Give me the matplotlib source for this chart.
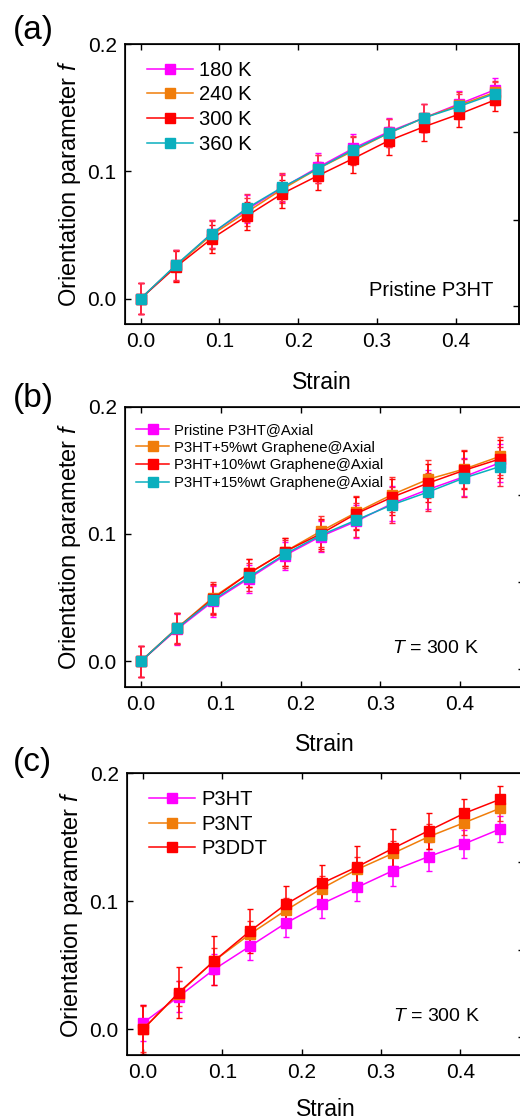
#Orientation parameter vs strain, three stacked panels
import numpy as np
import matplotlib
matplotlib.use('Agg')
import matplotlib.pyplot as plt

plt.rcParams['font.family'] = ['Liberation Sans', 'DejaVu Sans']
plt.rcParams['mathtext.fontset'] = 'custom'
plt.rcParams['mathtext.it'] = 'Liberation Sans:italic'
plt.rcParams['mathtext.rm'] = 'Liberation Sans'

#Strain values (same for all panels)
strain = [0.0, 0.045, 0.09, 0.135, 0.18, 0.225, 0.27, 0.315, 0.36, 0.405, 0.45]

#Panel (a): temperatures
labels_a = ['180 K', '240 K', '300 K', '360 K']
f_180 = [0.0, 0.026, 0.051, 0.070, 0.087, 0.103, 0.118, 0.131, 0.142, 0.153, 0.164]
f_240 = [0.0, 0.026, 0.050, 0.068, 0.086, 0.102, 0.116, 0.130, 0.142, 0.152, 0.162]
f_300 = [0.0, 0.025, 0.047, 0.065, 0.0825, 0.0965, 0.110, 0.124, 0.135, 0.145, 0.156]
f_360 = [0.0, 0.0265, 0.051, 0.071, 0.0875, 0.102, 0.117, 0.130, 0.142, 0.151, 0.161]
err_a = [0.012, 0.012, 0.011, 0.011, 0.011, 0.011, 0.011, 0.011, 0.011, 0.010, 0.009]

#Panel (b): graphene content
labels_b = ['Pristine P3HT@Axial', 'P3HT+5%wt Graphene@Axial',
            'P3HT+10%wt Graphene@Axial', 'P3HT+15%wt Graphene@Axial']
f_pristine = [0.0, 0.025, 0.047, 0.065, 0.083, 0.098, 0.110, 0.124, 0.135, 0.145, 0.156]
f_5wt = [0.0, 0.026, 0.050, 0.069, 0.086, 0.102, 0.117, 0.131, 0.143, 0.151, 0.161]
f_10wt = [0.0, 0.0258, 0.049, 0.069, 0.086, 0.100, 0.116, 0.129, 0.140, 0.150, 0.159]
f_15wt = [0.0, 0.0258, 0.048, 0.066, 0.084, 0.099, 0.111, 0.123, 0.133, 0.144, 0.153]
err_b = [0.012, 0.012, 0.012, 0.011, 0.011, 0.012, 0.013, 0.014, 0.015, 0.015, 0.015]

#Panel (c): side chains
labels_c = ['P3HT', 'P3NT', 'P3DDT']
f_p3ht = [0.005, 0.0255, 0.047, 0.065, 0.083, 0.098, 0.111, 0.124, 0.135, 0.145, 0.1565]
f_p3nt = [0.0, 0.028, 0.0536, 0.0745, 0.093, 0.110, 0.125, 0.1375, 0.1505, 0.1615, 0.1727]
f_p3ddt = [0.0, 0.0286, 0.0536, 0.0768, 0.0977, 0.114, 0.127, 0.1414, 0.1552, 0.1688, 0.1797]
err_p3ht = [0.014, 0.012, 0.012, 0.011, 0.011, 0.011, 0.011, 0.012, 0.011, 0.011, 0.010]
err_p3nt = [0.018, 0.010, 0.010, 0.010, 0.010, 0.010, 0.010, 0.010, 0.010, 0.010, 0.010]
err_p3ddt = [0.019, 0.020, 0.019, 0.017, 0.014, 0.014, 0.016, 0.015, 0.014, 0.011, 0.010]

#Ticks on the right spine of every panel
right_ticks = [-0.006, 0.062, 0.131]

magenta = '#FF00FF'
orange = '#F07D0A'
red = '#FF0000'
cyan = '#0AAFBE'

fig = plt.figure(figsize=(5.2, 11.2), dpi=100)
W, H = 520.0, 1120.0

def make_axes(left, top, right, bottom):
    return fig.add_axes([left / W, 1 - bottom / H, (right - left) / W, (bottom - top) / H])

def style_axes(ax, xpad=14):
    ax.set_xlim(-0.02, 0.48)
    ax.set_ylim(-0.02, 0.2)
    ax.set_xticks([0.0, 0.1, 0.2, 0.3, 0.4])
    ax.set_yticks([0.0, 0.1, 0.2])
    ax.tick_params(direction='in', length=4, width=1, labelsize=15, top=True, right=False, pad=6)
    for s in ax.spines.values():
        s.set_linewidth(1.2)
    ax.set_xlabel('Strain', fontsize=16.5, labelpad=xpad)
    ax.set_ylabel('Orientation parameter $f$', fontsize=17, labelpad=3)
    ax2 = ax.twinx()
    ax2.set_ylim(ax.get_ylim())
    ax2.set_yticks(right_ticks)
    ax2.tick_params(direction='in', length=4, width=1, labelright=False)
    ax2.spines['right'].set_linewidth(1.2)

def draw(ax, y, err, color, ecolor, label):
    c = ax.errorbar(strain, y, yerr=err, color=color, ecolor=ecolor, marker='s', markersize=6.5,
                    linewidth=1.1, elinewidth=1.1, capsize=2.5, capthick=1.0, label=label)
    return c.lines[0]

#(a)
ax_a = make_axes(125, 44, 518.5, 324)
style_axes(ax_a)
h = [draw(ax_a, f_180, err_a, magenta, magenta, labels_a[0]),
     draw(ax_a, f_240, err_a, orange, '#FF3030', labels_a[1]),
     draw(ax_a, f_300, err_a, red, red, labels_a[2]),
     draw(ax_a, f_360, err_a, cyan, '#FF3050', labels_a[3])]
ax_a.legend(handles=h, labels=labels_a, loc='upper left', bbox_to_anchor=(0.01, 1.005), frameon=False,
            fontsize=14.5, handlelength=2.3, handletextpad=0.3, labelspacing=0.28, borderaxespad=0.5)
ax_a.text(0.935, 0.12, 'Pristine P3HT', transform=ax_a.transAxes, ha='right', va='center', fontsize=14.5)
fig.text(13 / W, 1 - 30 / H, '(a)', fontsize=24, va='center', ha='left')

#(b)
ax_b = make_axes(125, 406.7, 524, 686.7)
style_axes(ax_b)
h = [draw(ax_b, f_pristine, err_b, magenta, magenta, labels_b[0]),
     draw(ax_b, f_5wt, err_b, orange, '#FF3030', labels_b[1]),
     draw(ax_b, f_10wt, err_b, red, red, labels_b[2]),
     draw(ax_b, f_15wt, err_b, cyan, '#FF2040', labels_b[3])]
ax_b.legend(handles=h, labels=labels_b, loc='upper left', bbox_to_anchor=(-0.005, 0.99), frameon=False,
            fontsize=10.7, handlelength=2.2, handletextpad=0.3, labelspacing=0.25, borderaxespad=0.5)
ax_b.text(0.67, 0.135, '$T$ = 300 K', transform=ax_b.transAxes, ha='left', va='center', fontsize=14)
fig.text(13 / W, 1 - 398 / H, '(b)', fontsize=24, va='center', ha='left')

#(c)
ax_c = make_axes(127, 773.3, 524, 1055)
style_axes(ax_c, xpad=11)
h = [draw(ax_c, f_p3ht, err_p3ht, magenta, magenta, labels_c[0]),
     draw(ax_c, f_p3nt, err_p3nt, orange, '#FF3030', labels_c[1]),
     draw(ax_c, f_p3ddt, err_p3ddt, red, red, labels_c[2])]
ax_c.legend(handles=h, labels=labels_c, loc='upper left', bbox_to_anchor=(0.01, 1.005), frameon=False,
            fontsize=14.5, handlelength=2.3, handletextpad=0.3, labelspacing=0.28, borderaxespad=0.5)
ax_c.text(0.67, 0.135, '$T$ = 300 K', transform=ax_c.transAxes, ha='left', va='center', fontsize=14)
fig.text(13 / W, 1 - 762 / H, '(c)', fontsize=24, va='center', ha='left')

plt.savefig('out.png', dpi=100)
